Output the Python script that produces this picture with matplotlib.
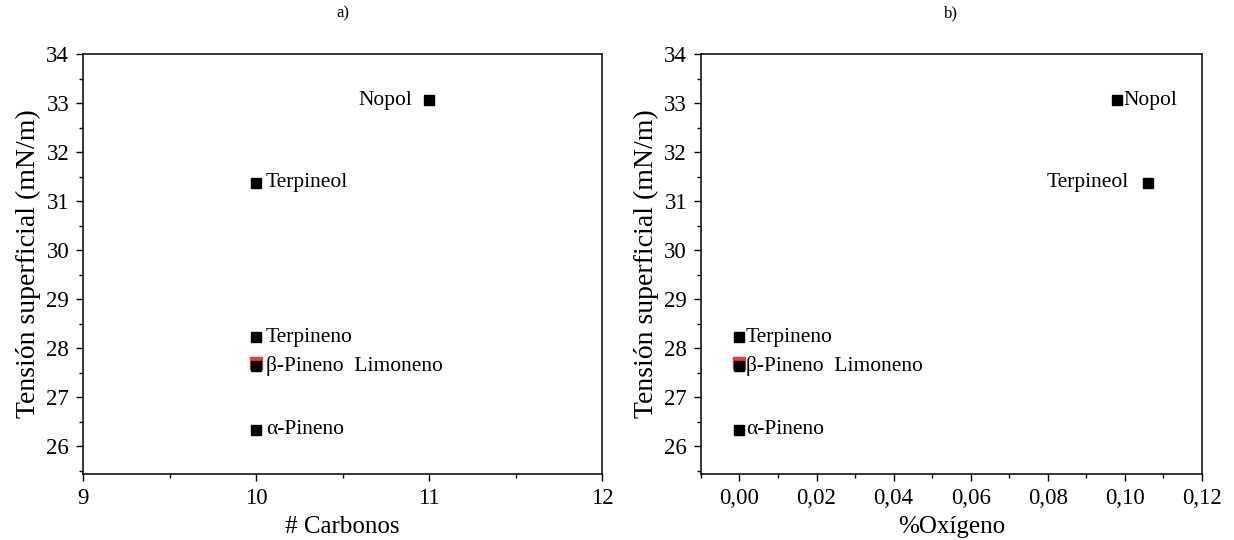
import matplotlib

matplotlib.use("Agg")
import matplotlib.pyplot as plt
from matplotlib.ticker import MultipleLocator, FuncFormatter

plt.rcParams["font.family"] = ["Liberation Serif", "DejaVu Serif"]

# ── data ───────────────────────────────────────────────────────────────────────
names = ["Nopol", "Terpineol", "Terpineno", "β-Pineno", "α-Pineno"]
carbonos = [11, 10, 10, 10, 10]
oxigeno = [0.098, 0.106, 0.0, 0.0, 0.0]
tension = [33.06, 31.37, 28.22, 27.64, 26.33]

# Limoneno (red marker, hidden behind β-Pineno)
lim_carbonos = [10]
lim_oxigeno = [0.0]
lim_tension = [27.70]

_INK = "black"
_RED = "#e8413c"

fig = plt.figure(figsize=(12.34, 5.4), dpi=100)
fig.patch.set_facecolor("white")
ax_a = fig.add_axes([0.0673, 0.1222, 0.4206, 0.7778])
ax_b = fig.add_axes([0.568, 0.1222, 0.406, 0.7778])


def style_axis(ax):
    ax.tick_params(which="major", direction="out", length=5, width=1,
                   labelsize=16.5, top=False, right=False, pad=5)
    ax.tick_params(which="minor", direction="out", length=3, width=1,
                   top=False, right=False)
    for sp in ax.spines.values():
        sp.set_linewidth(1.1)
    ax.set_ylim(25.43, 34)
    ax.yaxis.set_major_locator(MultipleLocator(1))
    ax.yaxis.set_minor_locator(MultipleLocator(0.5))
    ax.set_ylabel("Tensión superficial (mN/m)", fontsize=20, labelpad=4)


# ── a) carbon count ───────────────────────────────────────────────────────────
ax_a.plot(lim_carbonos, lim_tension, "s", ms=8.5, color=_RED, ls="none", zorder=2)
ax_a.plot(carbonos, tension, "s", ms=7, color=_INK, ls="none", zorder=3)
ax_a.set_xlim(9, 12)
ax_a.xaxis.set_major_locator(MultipleLocator(1))
ax_a.xaxis.set_minor_locator(MultipleLocator(0.5))
ax_a.set_xlabel("# Carbonos", fontsize=18, labelpad=5)
style_axis(ax_a)

for name, x, y in zip(names, carbonos, tension):
    if name == "Nopol":
        ax_a.annotate(name, (x, y), xytext=(-12, 0), textcoords="offset points",
                      ha="right", va="center", fontsize=15.5)
    else:
        label = name + "  Limoneno" if name == "β-Pineno" else name
        ax_a.annotate(label, (x, y), xytext=(7, 0), textcoords="offset points",
                      ha="left", va="center", fontsize=15.5)

# ── b) oxygen fraction ────────────────────────────────────────────────────────
ax_b.plot(lim_oxigeno, lim_tension, "s", ms=8.5, color=_RED, ls="none", zorder=2)
ax_b.plot(oxigeno, tension, "s", ms=7, color=_INK, ls="none", zorder=3)
ax_b.set_xlim(-0.01, 0.12)
ax_b.xaxis.set_major_locator(MultipleLocator(0.02))
ax_b.xaxis.set_minor_locator(MultipleLocator(0.01))
ax_b.xaxis.set_major_formatter(FuncFormatter(lambda v, p: f"{v:.2f}".replace(".", ",")))
ax_b.set_xlabel("%Oxígeno", fontsize=18, labelpad=5)
style_axis(ax_b)

for name, x, y in zip(names, oxigeno, tension):
    if name == "Terpineol":
        ax_b.annotate(name, (x, y), xytext=(-14, 0), textcoords="offset points",
                      ha="right", va="center", fontsize=15.5)
    else:
        label = name + "  Limoneno" if name == "β-Pineno" else name
        ax_b.annotate(label, (x, y), xytext=(4.5, 0), textcoords="offset points",
                      ha="left", va="center", fontsize=15.5)

# ── panel titles ──────────────────────────────────────────────────────────────
fig.text(0.2776, 0.975, "a)", ha="center", va="center", fontsize=12)
fig.text(0.771, 0.975, "b)", ha="center", va="center", fontsize=12)

fig.savefig("out.png", dpi=100, facecolor="white")
plt.close(fig)
